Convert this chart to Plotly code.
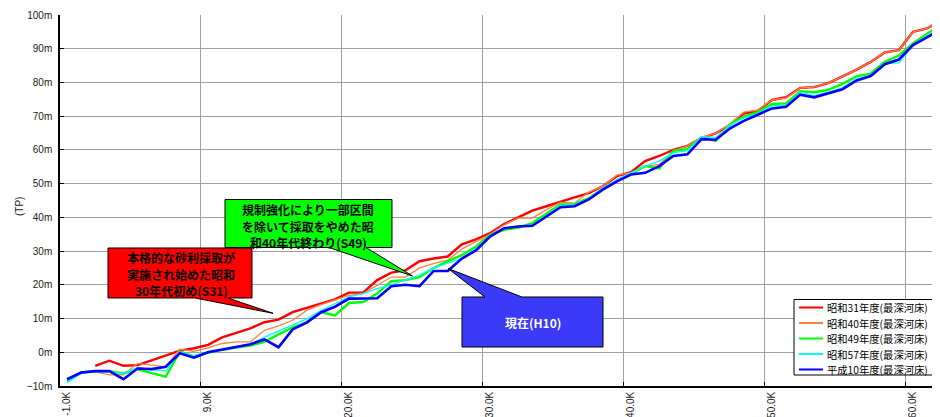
import plotly.graph_objects as go

# 距離標 (K) - カテゴリ軸
km = [-1.0, 0.0, 1.0, 2.0, 3.0, 4.0, 5.0, 6.0, 7.0, 8.0,
      9.0, 10.0, 11.0, 12.0, 13.0, 14.0, 15.0, 16.0, 17.0, 18.0,
      20.0, 21.0, 22.0, 23.0, 24.0, 25.0, 26.0, 27.0, 28.0, 29.0,
      30.0, 31.0, 32.0, 33.0, 34.0, 35.0, 36.0, 37.0, 38.0, 39.0,
      40.0, 41.0, 42.0, 43.0, 44.0, 45.0, 46.0, 47.0, 48.0, 49.0,
      50.0, 51.0, 52.0, 53.0, 54.0, 55.0, 56.0, 57.0, 58.0, 59.0,
      60.0, 61.0, 62.0]
km_labels = [f"{k:.1f}K" for k in km]

# 最深河床高 (m)
s31 = [None, None, -4.0, -2.5, -4.0, -3.8, -2.4, -1.0, 0.5, 1.2,
       2.2, 4.4, 5.7, 7.1, 8.9, 9.7, 11.9, 13.2, 14.4, 15.7,
       17.7, 17.7, 21.4, 23.6, 24.3, 27.0, 27.8, 28.4, 32.0, 33.5,
       35.3, 38.0, 40.0, 42.0, 43.3, 44.5, 45.9, 47.2, 49.2, 52.2,
       53.4, 56.7, 58.2, 60.0, 61.2, 63.5, 64.9, 67.2, 70.8, 71.6,
       74.8, 75.6, 78.4, 78.6, 79.8, 81.8, 83.8, 86.1, 88.9, 89.6,
       95.0, 96.0, 98.5]
s40 = [-8.0, -5.8, -5.8, -6.7, -6.7, -3.3, -3.8, -4.3, 0.9, 0.3,
       1.3, 2.6, 3.1, 3.1, 6.5, 7.8, 9.5, 12.4, 14.1, 15.4,
       16.9, 17.4, 19.9, 22.3, 22.3, 25.0, 26.3, 27.3, 30.6, 32.8,
       35.0, 37.8, 39.8, 39.8, 42.3, 44.4, 44.2, 47.5, 49.2, 52.5,
       53.2, 55.2, 55.7, 59.7, 61.2, 63.7, 64.9, 67.7, 71.2, 71.8,
       74.8, 75.4, 78.4, 78.6, 79.8, 81.8, 83.8, 86.1, 88.9, 89.6,
       95.0, 96.0, 98.5]
s49 = [-8.5, -6.0, -5.6, -5.6, -6.3, -5.0, -6.2, -7.2, 0.2, -1.2,
       0.0, 0.8, 1.4, 2.0, 3.1, 5.3, 7.4, 8.9, 11.9, 10.9,
       14.6, 14.9, 17.4, 21.1, 21.4, 22.3, 25.0, 27.0, 28.8, 31.3,
       34.8, 36.3, 37.0, 38.3, 41.0, 43.8, 43.9, 45.7, 48.5, 50.9,
       52.9, 55.2, 54.5, 59.7, 60.2, 63.7, 62.7, 67.5, 69.9, 71.2,
       73.6, 73.8, 77.4, 77.1, 77.8, 79.6, 81.8, 82.6, 86.1, 88.0,
       91.6, 94.5, 97.3]
s57 = [-9.0, -6.3, -5.8, -5.8, -6.3, -4.5, -5.2, -5.5, 0.0, -1.0,
       0.0, 0.7, 1.5, 2.3, 4.5, 6.3, 7.9, 9.9, 12.4, 14.4,
       16.4, 17.4, 18.9, 20.0, 21.4, 22.9, 25.0, 26.3, 27.8, 30.8,
       34.5, 36.8, 37.3, 37.8, 40.6, 43.5, 43.7, 45.5, 48.7, 51.2,
       53.2, 55.2, 56.7, 59.2, 59.7, 63.9, 63.7, 67.2, 69.5, 70.7,
       73.1, 73.1, 77.1, 76.1, 77.1, 78.4, 81.1, 82.1, 85.6, 85.8,
       91.1, 93.8, 96.5]
h10 = [-8.0, -6.0, -5.6, -5.6, -8.0, -4.8, -5.0, -4.3, -0.3, -1.6,
       0.0, 0.8, 1.6, 2.4, 3.8, 1.5, 6.8, 8.8, 11.8, 13.5,
       15.9, 15.9, 16.0, 19.6, 20.0, 19.6, 24.1, 24.1, 27.8, 30.2,
       34.3, 36.8, 37.3, 37.5, 40.3, 43.0, 43.3, 45.3, 48.2, 50.7,
       52.7, 53.2, 55.2, 58.2, 58.7, 63.2, 63.0, 66.3, 68.6, 70.4,
       72.3, 72.8, 76.4, 75.6, 76.8, 78.0, 80.6, 81.9, 85.4, 86.8,
       91.1, 93.3, 95.7]

series_names = ["昭和31年度(最深河床)", "昭和40年度(最深河床)", "昭和49年度(最深河床)",
                "昭和57年度(最深河床)", "平成10年度(最深河床)"]
series_values = [s31, s40, s49, s57, h10]
series_colors = ["#FF0000", "#FF8040", "#00FF00", "#00FFFF", "#0000FF"]
series_widths = [2.4, 1.3, 2.4, 1.3, 2.6]

# ページ余白 (body margin 8px) を差し引いた図のサイズ
OFF = 8
W, H = 940 - OFF, 417 - OFF
# プロット領域 (ページ上のピクセル)
PL, PR, PT, PB = 60, 940, 15, 386

def fx(x):
    return (x - PL) / (PR - PL)

def fy(y):
    return (PB - y) / (PB - PT)

def path(points):
    return "M " + " L ".join(f"{fx(x):.5f},{fy(y):.5f}" for x, y in points) + " Z"

JP = "Noto Sans CJK JP, sans-serif"
SANS = "Liberation Sans, Arial, sans-serif"

fig = go.Figure()
for name, vals, col, w in zip(series_names, series_values, series_colors, series_widths):
    fig.add_trace(go.Scatter(x=km_labels, y=vals, mode="lines", name=name,
                             line=dict(color=col, width=w), connectgaps=False))

shapes = []
annotations = []

# 吹き出し
callouts = [
    dict(pts=[(108, 248), (252, 248), (252, 298), (228, 298), (273, 313.3), (195, 298), (108, 298)],
         fill="#FF0000", lines=["本格的な砂利採取が", "実施され始めた昭和", "30年代初め(S31)"],
         cx=181, ys=[257.5, 274, 290.5], color="black"),
    dict(pts=[(225, 199.5), (392, 199.5), (392, 247.5), (366, 247.5), (412.5, 276), (329, 247.5), (225, 247.5)],
         fill="#00FF00", lines=["規制強化により一部区間", "を除いて採取をやめた昭", "和40年代終わり(S49)"],
         cx=308, ys=[209.5, 226, 242.5], color="black"),
    dict(pts=[(462, 297), (485, 297), (448, 268.5), (522, 297), (603, 297), (603, 347), (462, 347)],
         fill="#3A3AF8", lines=["現在(H10)"], cx=533, ys=[322], color="white"),
]
for c in callouts:
    shapes.append(dict(type="path", xref="paper", yref="paper", path=path(c["pts"]),
                       fillcolor=c["fill"], line=dict(color="black", width=1), layer="above"))
    for txt, yy in zip(c["lines"], c["ys"]):
        annotations.append(dict(xref="paper", yref="paper", x=fx(c["cx"]), y=fy(yy),
                                text="<b>" + txt + "</b>", showarrow=False, borderpad=0,
                                xanchor="center", yanchor="middle", align="center",
                                font=dict(family=JP, size=12, color=c["color"])))

# 凡例
shapes.append(dict(type="rect", xref="paper", yref="paper", x0=fx(794), x1=fx(937),
                   y0=fy(375), y1=fy(299.5), fillcolor="white",
                   line=dict(color="black", width=1), layer="above"))
for k, (name, col, w) in enumerate(zip(series_names, series_colors, series_widths)):
    yy = 307.5 + 15.5 * k
    shapes.append(dict(type="line", xref="paper", yref="paper", x0=fx(799), x1=fx(823),
                       y0=fy(yy), y1=fy(yy), line=dict(color=col, width=2), layer="above"))
    annotations.append(dict(xref="paper", yref="paper", x=fx(826), y=fy(yy), text=name,
                            showarrow=False, xanchor="left", yanchor="middle", borderpad=0,
                            font=dict(family=JP, size=10.3, color="black")))

# 縦軸タイトル
annotations.append(dict(xref="paper", yref="paper", x=fx(20), y=fy(207), text="(TP)",
                        showarrow=False, textangle=-90, xanchor="center", yanchor="middle",
                        font=dict(family=SANS, size=10, color="#222")))

fig.update_layout(
    width=W, height=H,
    margin=dict(l=PL - OFF, r=940 - PR, t=PT - OFF, b=417 - PB, autoexpand=False),
    plot_bgcolor="white", paper_bgcolor="white",
    showlegend=False,
    shapes=shapes, annotations=annotations,
    xaxis=dict(type="category", range=[-0.5, (PR - 67) / 14.1], automargin=False,
               tickmode="linear", tick0=0, dtick=10, tickson="boundaries",
               tickangle=-90, ticks="inside", ticklen=4, tickcolor="black",
               showgrid=True, gridcolor="#A0A0A0", gridwidth=1,
               showline=True, linecolor="black", linewidth=1.5,
               tickfont=dict(family=SANS, size=10, color="#222")),
    yaxis=dict(range=[-10, 100], tickmode="linear", tick0=-10, dtick=10, ticksuffix="m",
               automargin=False, ticklabelstandoff=4,
               ticks="inside", ticklen=4, tickcolor="black",
               showgrid=True, gridcolor="#A0A0A0", gridwidth=1,
               showline=True, linecolor="black", linewidth=1.5, zeroline=False,
               tickfont=dict(family=SANS, size=10, color="#222")),
)

fig.write_html("out.html")
